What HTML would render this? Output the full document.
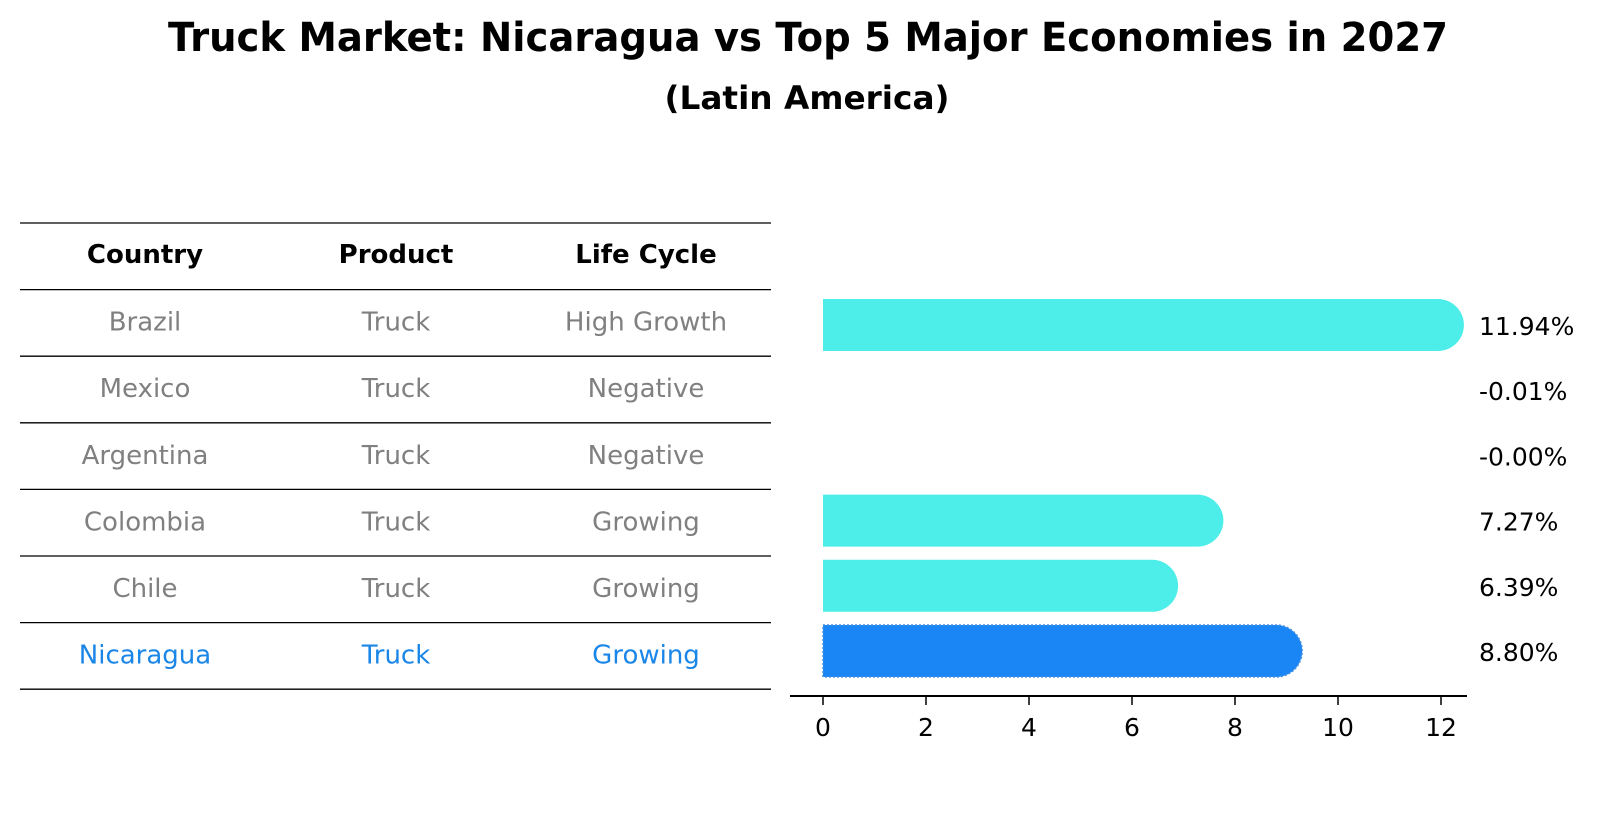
<!DOCTYPE html>
<html><head><meta charset="utf-8"><style>
html,body{margin:0;padding:0;background:#fff;}
svg{display:block;font-family:"DejaVu Sans","Liberation Sans",sans-serif;}
</style></head><body>
<svg id="chart" width="1604" height="823" viewBox="0 0 1604 823">
<text x="808" y="51" text-anchor="middle" font-size="40" font-weight="bold" textLength="1280" lengthAdjust="spacingAndGlyphs">Truck Market: Nicaragua vs Top 5 Major Economies in 2027</text>
<text x="807" y="109" text-anchor="middle" font-size="32" font-weight="bold" textLength="285" lengthAdjust="spacingAndGlyphs">(Latin America)</text>
<g id="table"></g>
<g id="bars"></g>
</svg>
<script>
const countries = ["Brazil","Mexico","Argentina","Colombia","Chile","Nicaragua"];
const products = ["Truck","Truck","Truck","Truck","Truck","Truck"];
const lifeCycles = ["High Growth","Negative","Negative","Growing","Growing","Growing"];
const growthValues = [11.94,-0.01,-0.00,7.27,6.39,8.80];
const valueLabels = ["11.94%","-0.01%","-0.00%","7.27%","6.39%","8.80%"];
const xTicks = [0,2,4,6,8,10,12];
const highlightCountry = "Nicaragua";

const NS="http://www.w3.org/2000/svg";
function mk(tag,attrs,parent){const e=document.createElementNS(NS,tag);for(const k in attrs)e.setAttribute(k,attrs[k]);parent.appendChild(e);return e;}
const xScale=v=>823+51.5*v;
const rowY=i=>325+65.2*i;

// table
const tbl=document.getElementById('table');
const lineY=i=>223+66.6*i;
const colX=[145,396,646];
for(let i=0;i<=countries.length+1;i++){
  const l=mk('line',{x1:20,x2:771,y1:lineY(i),y2:lineY(i),stroke:'#000','stroke-width':1.3},tbl);
  
  
}
const headers=["Country","Product","Life Cycle"];
headers.forEach((h,c)=>{
  const t=mk('text',{x:colX[c],y:lineY(0)+40,'text-anchor':'middle','font-size':26,'font-weight':'bold',fill:'#000'},tbl);
  t.textContent=h;
  
  
});
countries.forEach((cn,i)=>{
  const col=cn===highlightCountry?'#1a86e8':'#808080';
  [cn,products[i],lifeCycles[i]].forEach((v,c)=>{
    const t=mk('text',{x:colX[c],y:lineY(i+1)+41,'text-anchor':'middle','font-size':26,fill:col},tbl);
    t.textContent=v;
    
    
  });
});

// bars
const bg=document.getElementById('bars');
const h=52,r=26;
growthValues.forEach((v,i)=>{
  const cy=rowY(i);
  const x0=xScale(0),xv=xScale(v);
  const isH=countries[i]===highlightCountry;
  const fill=isH?'#1a86f5':'#4deeea';
  if(v>0){
    const d=`M${x0},${cy-h/2} L${xv},${cy-h/2} A${r},${r} 0 0 1 ${xv},${cy+h/2} L${x0},${cy+h/2} Z`;
    const p=mk('path',{d:d,fill:fill},bg);
    if(isH){p.setAttribute('stroke','#4a90e2');p.setAttribute('stroke-width','1.5');p.setAttribute('stroke-dasharray','2,2');}
    
    
  }
  const t=mk('text',{x:1479,y:cy+10,'font-size':25,fill:'#000'},bg);
  t.textContent=valueLabels[i];
  
  
});
const ax=mk('line',{x1:790,x2:1467,y1:696,y2:696,stroke:'#000','stroke-width':2},bg);


xTicks.forEach(tv=>{
  const x=xScale(tv);
  const tk=mk('line',{x1:x,x2:x,y1:696,y2:705,stroke:'#000','stroke-width':1.5},bg);
  
  
  const t=mk('text',{x:x,y:736,'text-anchor':'middle','font-size':25,fill:'#000'},bg);
  t.textContent=String(tv);
  
  
});
</script>
</body></html>
